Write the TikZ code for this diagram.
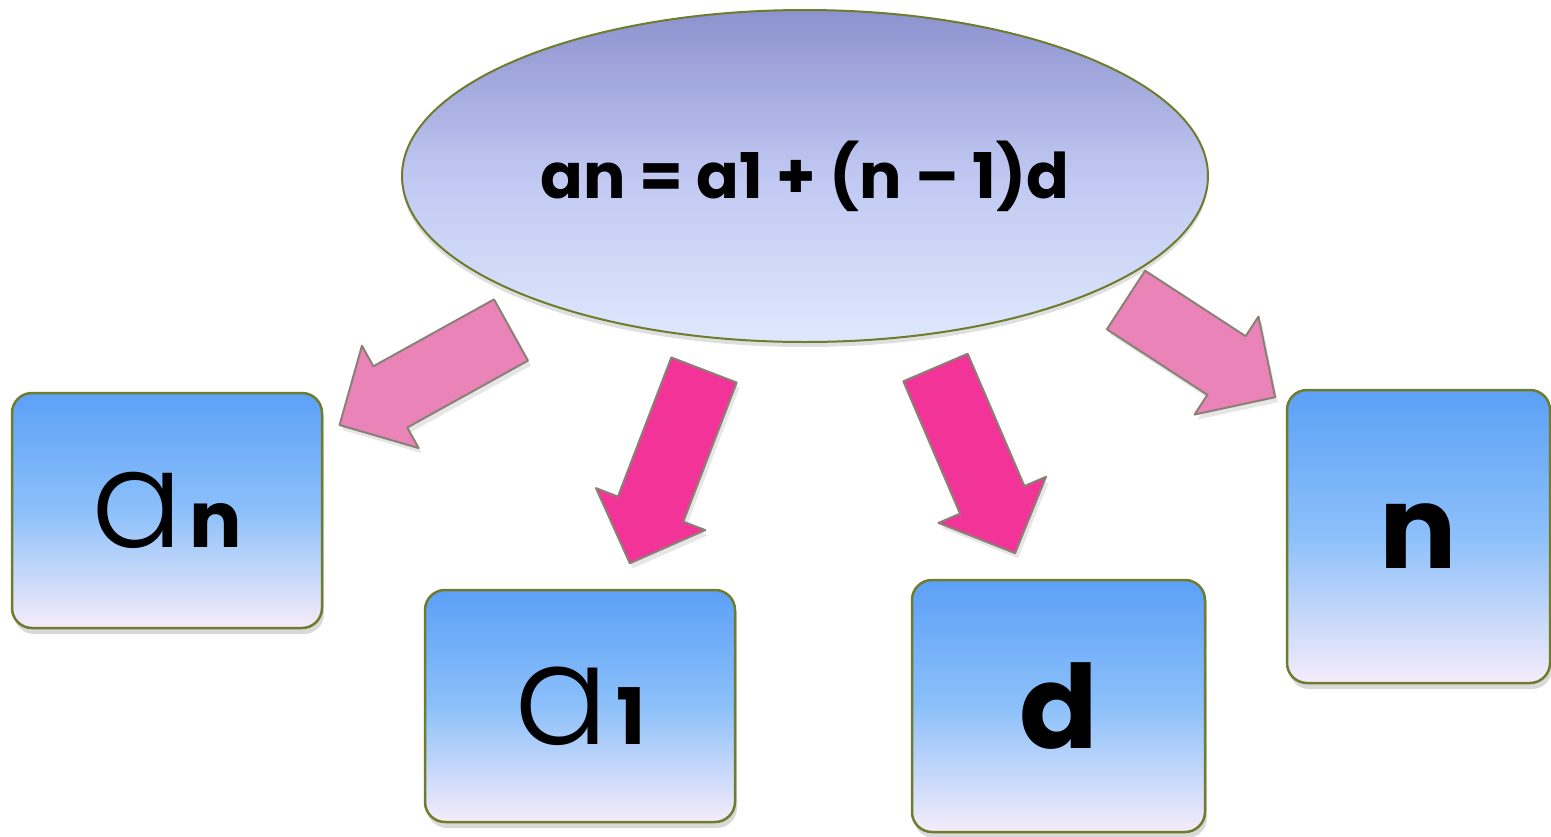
\documentclass[tikz,border=0pt]{standalone}
\usepackage{fontspec}
\setmainfont{Poppins}
\newfontfamily\lightface{Poppins Light}
\usetikzlibrary{shapes.geometric, shadows}
\definecolor{rim}{RGB}{110,125,45}
\definecolor{boxtop}{RGB}{92,160,246}
\definecolor{boxmid}{RGB}{140,192,250}
\definecolor{boxbot}{RGB}{246,236,250}
\definecolor{ovaltop}{RGB}{140,146,206}
\definecolor{ovalmid}{RGB}{192,200,242}
\definecolor{ovalbot}{RGB}{222,232,252}
\definecolor{pinklt}{RGB}{234,132,184}
\definecolor{pinkdk}{RGB}{242,52,152}
\definecolor{arrowrim}{RGB}{140,128,118}

\begin{document}
\begin{tikzpicture}[x=1pt, y=-1pt,
    tile/.style={rectangle, rounded corners=20pt, draw=rim, line width=2.5pt,
      top color=boxtop, bottom color=boxbot, middle color=boxmid, inner sep=0pt,
      drop shadow={shadow xshift=2pt, shadow yshift=-6pt, opacity=0.3}},
    oval/.style={ellipse, draw=rim, line width=2pt, inner sep=0pt,
      top color=ovaltop, bottom color=ovalbot, middle color=ovalmid,
      drop shadow={shadow xshift=0pt, shadow yshift=-5pt, opacity=0.25}},
    big/.style={font=\fontsize{#1}{#1}\selectfont}]
  \useasboundingbox (0,0) rectangle (1551,836);

  % formula
  \node[oval, minimum width=806pt, minimum height=332pt, font=\bfseries\fontsize{63}{63}\selectfont]
    (formula) at (805,176) {an = a1 + (n -- 1)d};

  % parts of the formula
  \node[tile, minimum width=310pt, minimum height=235pt] (an) at (167,510.5)
    {{\lightface\fontsize{136}{136}\selectfont a}\hspace{6pt}{\bfseries\fontsize{78}{78}\selectfont n}};
  \node[tile, minimum width=310pt, minimum height=232pt] (aone) at (580,706)
    {{\lightface\fontsize{140}{140}\selectfont a}\hspace{8pt}{\bfseries\fontsize{78}{78}\selectfont 1}};
  \node[tile, minimum width=293pt, minimum height=252pt, big=116] (d) at (1058.5,706)
    {\bfseries d};
  \node[tile, minimum width=263pt, minimum height=293pt, big=115] (n) at (1418.5,536.5)
    {\raisebox{-8pt}{\bfseries n}};

  % block arrows
  \foreach \tx/\ty/\ang/\len/\col in {511/330/209/196/pinklt, 704/370/249/207/pinkdk,
      935.5/367.5/293.2/202/pinkdk, 1126/300/326.9/178/pinklt}
    \filldraw[shift={(\tx,\ty)}, rotate=\ang, fill=\col, draw=arrowrim, line width=2pt,
        line join=round, drop shadow={shadow xshift=3pt, shadow yshift=-5pt, opacity=0.2}]
      (0,-35) -- (\len-58,-35) -- (\len-58,-58.5) -- (\len,0)
      -- (\len-58,58.5) -- (\len-58,35) -- (0,35) -- cycle;
\end{tikzpicture}
\end{document}
